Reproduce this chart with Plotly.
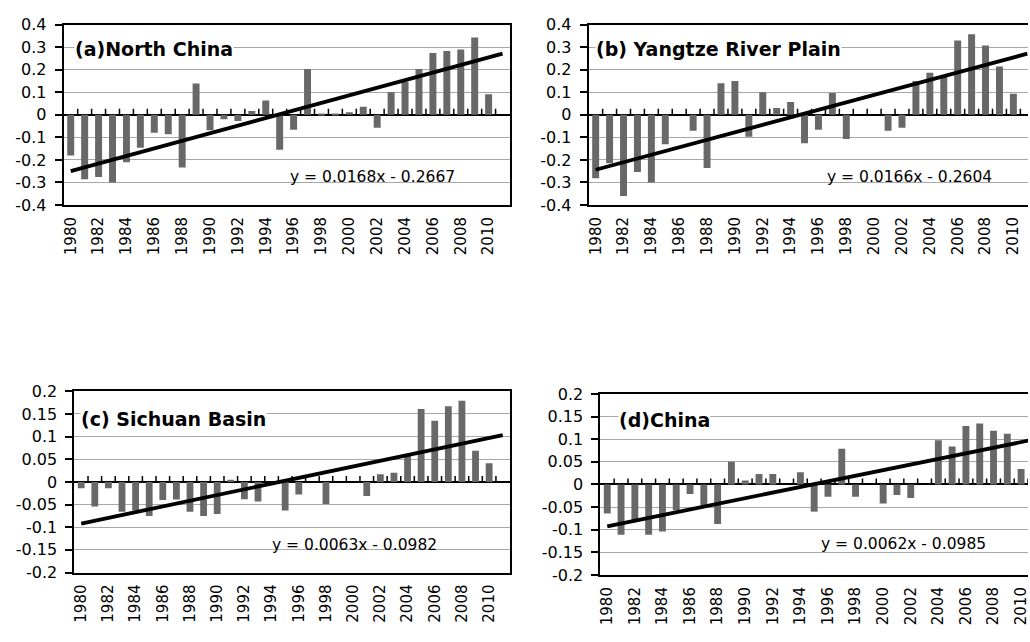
import plotly.graph_objects as go

years = list(range(1980, 2011))

north_china = [-0.180, -0.286, -0.276, -0.300, -0.210, -0.146, -0.080, -0.086, -0.234, 0.139,
               -0.069, -0.020, -0.028, 0.017, 0.063, -0.155, -0.066, 0.203, 0.003, 0.002,
               0.011, 0.036, -0.057, 0.100, 0.146, 0.203, 0.274, 0.283, 0.289, 0.343, 0.091]
yangtze = [-0.281, -0.215, -0.360, -0.254, -0.300, -0.131, 0.000, -0.071, -0.236, 0.140,
           0.150, -0.097, 0.100, 0.030, 0.057, -0.126, -0.066, 0.096, -0.107, 0.000,
           0.000, -0.071, -0.057, 0.150, 0.186, 0.167, 0.329, 0.357, 0.307, 0.214, 0.093]
sichuan = [-0.014, -0.054, -0.014, -0.066, -0.063, -0.075, -0.040, -0.039, -0.066, -0.075,
           -0.071, 0.005, -0.038, -0.043, 0.000, -0.063, -0.028, 0.000, -0.049, 0.000,
           0.000, -0.031, 0.017, 0.020, 0.060, 0.161, 0.135, 0.167, 0.179, 0.069, 0.041]
china = [-0.064, -0.111, -0.080, -0.111, -0.104, -0.057, -0.021, -0.046, -0.087, 0.050,
         0.009, 0.023, 0.023, 0.000, 0.027, -0.060, -0.027, 0.079, -0.027, 0.000,
         -0.042, -0.023, -0.030, 0.000, 0.098, 0.084, 0.129, 0.135, 0.119, 0.112, 0.034]

titles = ["(a)North China", "(b) Yangtze River Plain", "(c) Sichuan Basin", "(d)China"]
slopes = [0.0168, 0.0166, 0.0063, 0.0062]
intercepts = [-0.2667, -0.2604, -0.0982, -0.0985]
equations = ["y = 0.0168x - 0.2667", "y = 0.0166x - 0.2604",
             "y = 0.0063x - 0.0982", "y = 0.0062x - 0.0985"]

ytick_vals_big = [0.4, 0.3, 0.2, 0.1, 0, -0.1, -0.2, -0.3, -0.4]
ytick_text_big = ["0.4", "0.3", "0.2", "0.1", "0", "-0.1", "-0.2", "-0.3", "-0.4"]
ytick_vals_small = [0.2, 0.15, 0.1, 0.05, 0, -0.05, -0.1, -0.15, -0.2]
ytick_text_small = ["0.2", "0.15", "0.1", "0.05", "0", "-0.05", "-0.1", "-0.15", "-0.2"]

series = [north_china, yangtze, sichuan, china]

W, H = 1030, 642
# pixel boxes: left, right, top, bottom
boxes = [(62, 509.5, 16, 202), (589, 1030, 16, 202),
         (72.7, 509.5, 394, 580.7), (600.7, 1030, 396.7, 583.3)]
xranges = [[1979.5, 2011.5], [1979.5, 2011.05], [1979.5, 2011.5], [1979.5, 2010.5]]
yranges = [[-0.4, 0.4], [-0.4, 0.4], [-0.2, 0.2], [-0.2, 0.2]]
title_pos = [(72, 41), (595, 41), (78, 423), (618, 424)]
eq_pos = [(372, 173), (911, 173), (354, 552), (905, 551)]

FONT = "DejaVu Sans"
fig = go.Figure()
layout = dict(width=W, height=H, margin=dict(l=0, r=0, t=0, b=0),
              paper_bgcolor="white", plot_bgcolor="white", showlegend=False,
              bargap=0.5, shapes=[], annotations=[])

for i in range(4):
    n = "" if i == 0 else str(i + 1)
    xa, ya = "x" + n, "y" + n
    vals = series[i]
    fig.add_trace(go.Bar(x=years, y=vals, marker=dict(color="#686868", line=dict(width=0)),
                         xaxis=xa, yaxis=ya, hoverinfo="skip"))
    tx = years + [years[-1] + 1]
    ty = [slopes[i] * (k + 1) + intercepts[i] for k in range(len(tx))]
    fig.add_trace(go.Scatter(x=tx, y=ty, mode="lines", line=dict(color="black", width=3.8),
                             xaxis=xa, yaxis=ya, hoverinfo="skip"))
    l, r, t, b = boxes[i]
    big = i < 2
    layout["xaxis" + n] = dict(domain=[l / W, r / W], range=xranges[i], anchor=ya,
                               tickvals=years[::2], ticktext=[str(y) for y in years[::2]],
                               tickangle=-90, ticks="", showgrid=False, zeroline=False,
                               showline=True, linecolor="black", linewidth=2, mirror=True,
                               ticklabelstandoff=4, ticklabeloverflow="allow",
                               tickfont=dict(family=FONT, size=15, color="black"))
    layout["yaxis" + n] = dict(domain=[1 - b / H, 1 - t / H], range=yranges[i], anchor=xa,
                               tickvals=ytick_vals_big if big else ytick_vals_small,
                               ticktext=ytick_text_big if big else ytick_text_small,
                               ticks="outside", ticklen=7, tickwidth=1.5, tickcolor="black",
                               showgrid=True, gridcolor="#a8a8a8", gridwidth=1,
                               zeroline=True, zerolinecolor="black", zerolinewidth=1.5,
                               showline=True, linecolor="black", linewidth=2,
                               mirror=(i % 2 == 0), ticklabelstandoff=5,
                               tickfont=dict(family=FONT, size=16, color="black"))
    for yr in years:
        layout["shapes"].append(dict(type="line", xref=xa, yref=ya, x0=yr + 0.5, x1=yr + 0.5,
                                     ysizemode="pixel", yanchor=0, y0=0, y1=6,
                                     line=dict(color="black", width=1.5)))
    tx0, ty0 = title_pos[i]
    layout["annotations"].append(dict(text="<b>" + titles[i] + "</b>", xref="paper", yref="paper",
                                      x=tx0 / W, y=1 - ty0 / H, xanchor="left", yanchor="middle",
                                      showarrow=False, bgcolor="white", borderpad=0,
                                      font=dict(family=FONT, size=19, color="black")))
    ex, ey = eq_pos[i]
    layout["annotations"].append(dict(text=equations[i], xref="paper", yref="paper",
                                      x=ex / W, y=1 - ey / H, xanchor="center", yanchor="middle",
                                      showarrow=False,
                                      font=dict(family=FONT, size=15.5, color="black")))

fig.update_layout(**layout)
fig.write_html("out.html", config={"displayModeBar": False},
               post_script="document.body.style.margin='0';document.body.style.overflow='hidden';")
